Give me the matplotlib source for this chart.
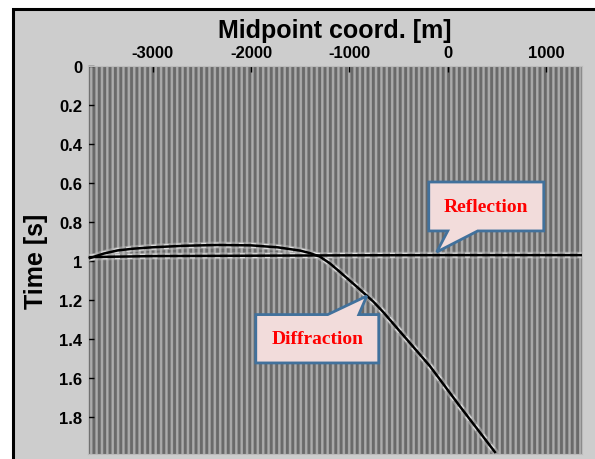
import numpy as np
import matplotlib
matplotlib.use("Agg")
import matplotlib.pyplot as plt
from matplotlib.patches import Rectangle, Polygon
from matplotlib.ticker import FormatStrFormatter

plt.rcParams["font.family"] = "Liberation Sans"
plt.rcParams["axes.unicode_minus"] = False

# trace midpoints (m) of the stacked section
midpoints = np.arange(-3655, 1362, 12.5)

# picked reflection traveltime
refl_x = [-3640, -3000, -2000, -1000, 0, 1000, 1360]
refl_t = [0.980, 0.975, 0.973, 0.971, 0.970, 0.970, 0.970]

# picked diffraction traveltime
diff_x = [-3640, -3500, -3360, -3200, -3010, -2680, -2340, -2000, -1730,
          -1500, -1400, -1300, -1200, -1100, -930, -760, -660, -420,
          -180, 120, 480]
diff_t = [0.985, 0.962, 0.946, 0.937, 0.930, 0.922, 0.918, 0.920, 0.930,
          0.947, 0.960, 0.978, 1.012, 1.055, 1.130, 1.207, 1.260, 1.400,
          1.540, 1.743, 1.980]

x_ticks = [-3000, -2000, -1000, 0, 1000]
t_ticks = [0, 0.2, 0.4, 0.6, 0.8, 1.0, 1.2, 1.4, 1.6, 1.8]

fig = plt.figure(figsize=(5.95, 4.6), dpi=100, facecolor="white")
# grey figure panel with dark frame
fig.add_artist(Rectangle((13 / 595, -0.1), 1.2, 1.1 - 10 / 460,
                         transform=fig.transFigure, facecolor="#cdcdcd",
                         edgecolor="black", linewidth=2.2, zorder=0))

ax = fig.add_axes([88 / 595, 5 / 460, 494 / 595, 388 / 460])
ax.set_facecolor("white")

traces = ax.vlines(midpoints, 0, 2.1, color="black", linewidth=0.42, zorder=1)
traces.set_snap(False)

# events: speckled halo from the wavelet lobes, then the black trough
for xs, ts in [(refl_x, refl_t), (diff_x, diff_t)]:
    ax.plot(xs, ts, color="#bdbdbd", linewidth=5, alpha=0.5, zorder=2,
            solid_joinstyle="round")
    ax.plot(xs, ts, color="#eeeeee", linewidth=3.6, linestyle=(0, (1, 1.5)),
            alpha=0.8, zorder=3)
    ax.plot(xs, ts, color="black", linewidth=1.8, zorder=4,
            solid_joinstyle="round")

ax.set_xlim(-3660, 1366)
ax.set_ylim(1.99, 0)
ax.xaxis.tick_top()
ax.xaxis.set_label_position("top")
ax.set_xticks(x_ticks)
ax.set_yticks(t_ticks)
ax.yaxis.set_major_formatter(FormatStrFormatter("%g"))
ax.tick_params(direction="in", length=4, width=1, color="black",
               labelsize=12, pad=4)
for lab in ax.get_xticklabels() + ax.get_yticklabels():
    lab.set_fontweight("bold")
for s in ax.spines.values():
    s.set_color("#bbbbbb")
    s.set_linewidth(0.8)

ax.set_xlabel("Midpoint coord. [m]", fontsize=18, fontweight="bold", labelpad=6)
ax.set_ylabel("Time [s]", fontsize=18, fontweight="bold", labelpad=8)


def callout(box, base, tip, label, side):
    x0, x1, t0, t1 = box
    if side == "bottom":
        verts = [(x0, t0), (x1, t0), (x1, t1), (base[1], t1), tip,
                 (base[0], t1), (x0, t1)]
    else:
        verts = [(x0, t0), (base[0], t0), tip, (base[1], t0), (x1, t0),
                 (x1, t1), (x0, t1)]
    ax.add_patch(Polygon(verts, closed=True, facecolor="#f2dcdb",
                         edgecolor="#41719c", linewidth=2, zorder=6))
    ax.text((x0 + x1) / 2, (t0 + t1) / 2, label, ha="center", va="center",
            color="red", fontsize=14, fontweight="bold",
            family="Liberation Serif", zorder=7)


callout((-193, 977, 0.595, 0.846), (0, 305), (-112, 0.954), "Reflection", "bottom")
callout((-1953, -702, 1.275, 1.523), (-1221, -905), (-824, 1.18), "Diffraction", "top")

fig.savefig("out.png", dpi=100, facecolor=fig.get_facecolor())
